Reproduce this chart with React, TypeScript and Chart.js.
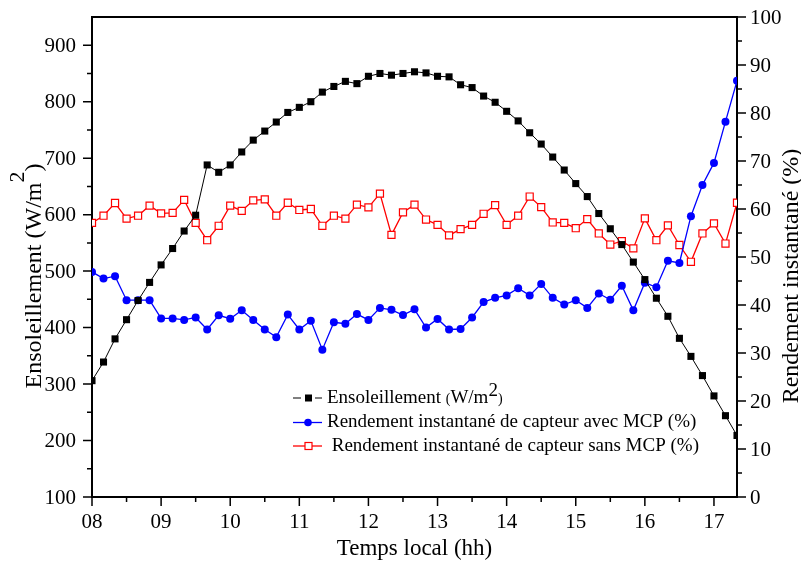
import React, { useEffect, useRef } from 'react';
import { Chart, registerables } from 'chart.js';

Chart.register(...registerables);

// ---- Data ----
const times = [
  "08:00", "08:10", "08:20", "08:30", "08:40", "08:50",
  "09:00", "09:10", "09:20", "09:30", "09:40", "09:50",
  "10:00", "10:10", "10:20", "10:30", "10:40", "10:50",
  "11:00", "11:10", "11:20", "11:30", "11:40", "11:50",
  "12:00", "12:10", "12:20", "12:30", "12:40", "12:50",
  "13:00", "13:10", "13:20", "13:30", "13:40", "13:50",
  "14:00", "14:10", "14:20", "14:30", "14:40", "14:50",
  "15:00", "15:10", "15:20", "15:30", "15:40", "15:50",
  "16:00", "16:10", "16:20", "16:30", "16:40", "16:50",
  "17:00", "17:10", "17:20",
];

const ensoleillement = [
  306, 339, 380, 414, 448, 480,
  511, 540, 571, 599, 688, 675,
  688, 711, 732, 748, 764, 781,
  790, 800, 817, 827, 836, 832,
  845, 850, 847, 850, 853, 851,
  845, 844, 830, 825, 810, 799,
  783, 766, 745, 725, 702, 679,
  655, 632, 602, 575, 547, 516,
  485, 452, 420, 381, 349, 315,
  279, 244, 209,
];

const rendementAvecMCP = [
  46.9, 45.5, 46.0, 41.0, 41.0, 41.0,
  37.2, 37.2, 36.9, 37.4, 34.9, 37.85,
  37.15, 38.9, 36.9, 34.9, 33.3, 38.0,
  34.9, 36.7, 30.7, 36.4, 36.1, 38.1,
  36.9, 39.4, 39.0, 37.9, 39.1, 35.3,
  37.1, 34.9, 35.0, 37.4, 40.6, 41.5,
  42.0, 43.5, 42.0, 44.4, 41.5, 40.1,
  41.0, 39.4, 42.4, 41.1, 44.0, 38.9,
  44.65, 43.7, 49.2, 48.75, 58.5, 65.0,
  69.6, 78.2, 86.7,
];

const rendementSansMCP = [
  57.1, 58.6, 61.25, 58.0, 58.6, 60.7,
  59.1, 59.2, 61.9, 57.1, 53.5, 56.5,
  60.7, 59.6, 61.8, 62.0, 58.6, 61.3,
  59.8, 60.0, 56.5, 58.6, 58.0, 60.9,
  60.35, 63.2, 54.6, 59.3, 60.9, 57.8,
  56.7, 54.5, 55.8, 56.7, 59.0, 60.8,
  56.7, 58.6, 62.6, 60.4, 57.2, 57.1,
  56.0, 57.9, 54.9, 52.6, 53.3, 51.8,
  58.05, 53.5, 56.6, 52.5, 49.0, 54.9,
  57.0, 52.8, 61.3,
];

const hourLabels = ["08", "09", "10", "11", "12", "13", "14", "15", "16", "17"];
const leftTickLabels = ["100", "200", "300", "400", "500", "600", "700", "800", "900"];
const rightTickLabels = ["0", "10", "20", "30", "40", "50", "60", "70", "80", "90", "100"];

const seriesNames = [
  "Ensoleillement",
  "Rendement instantané de capteur avec MCP (%)",
  " Rendement instantané de capteur sans MCP (%)",
];

const toHours = (t: string) => {
  const [h, m] = t.split(':').map(Number);
  return h + m / 60;
};

const FONT = '"Liberation Serif", "Times New Roman", serif';
const BLUE = '#0000ff';
const RED = '#ff0000';

const decorPlugin = {
  id: 'decor',
  beforeDatasetsDraw(chart: any) {
    const { ctx, chartArea, scales } = chart;
    const { left, right, top, bottom } = chartArea;
    const xs = scales.x;
    const yl = scales.y;
    const yr = scales.y1;
    ctx.save();
    ctx.strokeStyle = '#000';
    ctx.fillStyle = '#000';

    // ticks
    ctx.lineWidth = 1.5;
    ctx.beginPath();
    const leftVals = leftTickLabels.map(Number);
    leftVals.forEach((v, i) => {
      const y = yl.getPixelForValue(v);
      ctx.moveTo(left - 9, y); ctx.lineTo(left, y);
      const mv = i < leftVals.length - 1 ? (v + leftVals[i + 1]) / 2 : v + (v - leftVals[i - 1]) / 2;
      if (mv < yl.max) {
        const my = yl.getPixelForValue(mv);
        ctx.moveTo(left - 5, my); ctx.lineTo(left, my);
      }
    });
    const rightVals = rightTickLabels.map(Number);
    rightVals.forEach((v, i) => {
      const y = yr.getPixelForValue(v);
      ctx.moveTo(right, y); ctx.lineTo(right + 9, y);
      if (i < rightVals.length - 1) {
        const my = yr.getPixelForValue((v + rightVals[i + 1]) / 2);
        ctx.moveTo(right, my); ctx.lineTo(right + 5, my);
      }
    });
    const hourVals = hourLabels.map(Number);
    hourVals.forEach((v, i) => {
      const x = xs.getPixelForValue(v);
      ctx.moveTo(x, bottom); ctx.lineTo(x, bottom + 9);
      const mv = i < hourVals.length - 1 ? (v + hourVals[i + 1]) / 2 : v + 0.5;
      if (mv < xs.max) {
        const mx = xs.getPixelForValue(mv);
        ctx.moveTo(mx, bottom); ctx.lineTo(mx, bottom + 5);
      }
    });
    ctx.stroke();

    // frame
    ctx.lineWidth = 2;
    ctx.strokeRect(left, top, right - left, bottom - top);

    // tick labels
    ctx.font = `21px ${FONT}`;
    ctx.textBaseline = 'middle';
    ctx.textAlign = 'right';
    leftTickLabels.forEach((l) => {
      ctx.fillText(l, left - 16, yl.getPixelForValue(Number(l)) + 1);
    });
    ctx.textAlign = 'left';
    rightTickLabels.forEach((l) => {
      ctx.fillText(l, right + 13, yr.getPixelForValue(Number(l)) + 1);
    });
    ctx.textAlign = 'center';
    ctx.textBaseline = 'alphabetic';
    hourLabels.forEach((l) => {
      ctx.fillText(l, xs.getPixelForValue(Number(l)), bottom + 31);
    });

    // x title
    ctx.font = `23px ${FONT}`;
    ctx.fillText('Temps local (hh)', (left + right) / 2, 555);

    // right title
    ctx.save();
    ctx.font = `24px ${FONT}`;
    ctx.translate(798, 276);
    ctx.rotate(-Math.PI / 2);
    ctx.textAlign = 'center';
    ctx.fillText('Rendement instantané (%)', 0, 0);
    ctx.restore();

    // left title with superscript
    ctx.save();
    ctx.translate(41, 276);
    ctx.rotate(-Math.PI / 2);
    ctx.textAlign = 'left';
    const mainFont = `24px ${FONT}`;
    const supFont = `22px ${FONT}`;
    ctx.font = mainFont;
    const p1 = 'Ensoleillement (W/m';
    const w1 = ctx.measureText(p1).width;
    const w3 = ctx.measureText(')').width;
    ctx.font = supFont;
    const w2 = ctx.measureText('2').width;
    const total = w1 + w2 + w3;
    let cx = -total / 2;
    ctx.font = mainFont;
    ctx.fillText(p1, cx, 0);
    cx += w1;
    ctx.font = supFont;
    ctx.fillText('2', cx, -17);
    cx += w2;
    ctx.font = mainFont;
    ctx.fillText(')', cx, 0);
    ctx.restore();

    ctx.restore();
  },
  afterDatasetsDraw(chart: any) {
    const { ctx } = chart;
    ctx.save();
    ctx.textAlign = 'left';
    ctx.textBaseline = 'alphabetic';
    ctx.fillStyle = '#000';

    // Row 1: black
    let ly = 398;
    ctx.strokeStyle = '#000';
    ctx.lineWidth = 1;
    ctx.beginPath();
    ctx.moveTo(293, ly); ctx.lineTo(301, ly);
    ctx.moveTo(315, ly); ctx.lineTo(322, ly);
    ctx.stroke();
    ctx.fillRect(305, ly - 3.5, 7, 7);
    ctx.font = `19px ${FONT}`;
    let tx = 327;
    const tb1 = 403;
    ctx.fillText(seriesNames[0] + ' ', tx, tb1);
    tx += ctx.measureText(seriesNames[0] + ' ').width;
    ctx.font = `14px ${FONT}`;
    ctx.fillText('(', tx, tb1);
    tx += ctx.measureText('(').width;
    ctx.font = `19px ${FONT}`;
    ctx.fillText('W/m', tx, tb1);
    tx += ctx.measureText('W/m').width;
    ctx.fillText('2', tx, tb1 - 7);
    tx += ctx.measureText('2').width;
    ctx.font = `14px ${FONT}`;
    ctx.fillText(')', tx, tb1);

    // Row 2: blue
    ly = 422.5;
    ctx.strokeStyle = BLUE;
    ctx.lineWidth = 1.3;
    ctx.beginPath();
    ctx.moveTo(293, ly); ctx.lineTo(322, ly);
    ctx.stroke();
    ctx.fillStyle = BLUE;
    ctx.beginPath();
    ctx.arc(308, ly, 3.8, 0, Math.PI * 2);
    ctx.fill();
    ctx.fillStyle = '#000';
    ctx.font = `19px ${FONT}`;
    ctx.fillText(seriesNames[1], 327, 427);

    // Row 3: red
    ly = 446;
    ctx.strokeStyle = RED;
    ctx.lineWidth = 1.3;
    ctx.beginPath();
    ctx.moveTo(293, ly); ctx.lineTo(322, ly);
    ctx.stroke();
    ctx.fillStyle = '#fff';
    ctx.fillRect(305, ly - 3.5, 7, 7);
    ctx.lineWidth = 1.2;
    ctx.strokeRect(305, ly - 3.5, 7, 7);
    ctx.fillStyle = '#000';
    ctx.fillText(seriesNames[2], 327, 451);

    ctx.restore();
  },
};

export default function App() {
  const canvasRef = useRef<HTMLCanvasElement | null>(null);

  useEffect(() => {
    const canvas = canvasRef.current;
    if (!canvas) return;
    const xs = times.map(toHours);
    const chart = new Chart(canvas, {
      type: 'line',
      data: {
        datasets: [
          {
            label: seriesNames[0],
            data: ensoleillement.map((v, i) => ({ x: xs[i], y: v })),
            yAxisID: 'y',
            borderColor: '#000',
            backgroundColor: '#000',
            borderWidth: 1,
            pointStyle: 'rect',
            pointRadius: 5,
            pointBorderWidth: 0,
            pointBackgroundColor: '#000',
            tension: 0,
          },
          {
            label: seriesNames[1],
            data: rendementAvecMCP.map((v, i) => ({ x: xs[i], y: v })),
            yAxisID: 'y1',
            borderColor: BLUE,
            backgroundColor: BLUE,
            borderWidth: 1.3,
            pointStyle: 'circle',
            pointRadius: 4,
            pointBorderWidth: 0,
            pointBackgroundColor: BLUE,
            tension: 0,
          },
          {
            label: seriesNames[2],
            data: rendementSansMCP.map((v, i) => ({ x: xs[i], y: v })),
            yAxisID: 'y1',
            borderColor: RED,
            backgroundColor: '#fff',
            borderWidth: 1.3,
            pointStyle: 'rect',
            pointRadius: 5,
            pointBorderWidth: 1.2,
            pointBorderColor: RED,
            pointBackgroundColor: '#fff',
            tension: 0,
          },
        ],
      },
      options: {
        responsive: false,
        animation: false,
        devicePixelRatio: 1,
        layout: { padding: { top: 17, left: 0, right: 0, bottom: 0 } },
        plugins: {
          legend: { display: false },
          tooltip: { enabled: false },
        },
        scales: {
          x: {
            type: 'linear',
            min: toHours(times[0]),
            max: toHours(times[times.length - 1]),
            ticks: { display: false },
            grid: { display: false, drawTicks: false },
            border: { display: false },
            afterFit: (s: any) => { s.height = 66; },
          },
          y: {
            type: 'linear',
            position: 'left',
            min: 100,
            max: 950,
            ticks: { display: false },
            grid: { display: false, drawTicks: false },
            border: { display: false },
            afterFit: (s: any) => { s.width = 92; },
          },
          y1: {
            type: 'linear',
            position: 'right',
            min: 0,
            max: 100,
            ticks: { display: false },
            grid: { display: false, drawTicks: false },
            border: { display: false },
            afterFit: (s: any) => { s.width = 64; },
          },
        },
      },
      plugins: [decorPlugin],
    });
    return () => chart.destroy();
  }, []);

  return (
    <div style={{ position: 'fixed', left: 0, top: 0, width: 801, height: 563, background: '#fff' }}>
      <canvas ref={canvasRef} width={801} height={563} style={{ width: 801, height: 563 }} />
    </div>
  );
}
